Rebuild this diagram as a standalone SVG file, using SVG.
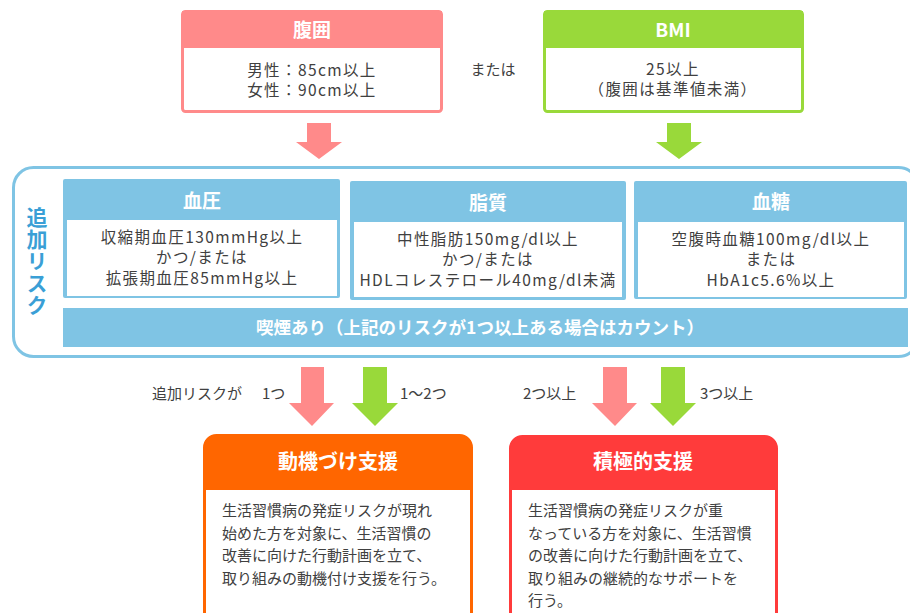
<svg xmlns="http://www.w3.org/2000/svg" width="910" height="613" viewBox="0 0 910 613">
<style>
text{font-family:"Noto Sans CJK JP","Liberation Sans",sans-serif;}
.body{font-size:15.5px;fill:#404040;text-anchor:middle;letter-spacing:1.4px;}
.head{font-size:19px;font-weight:bold;fill:#ffffff;text-anchor:middle;}
.lbl{font-size:15px;fill:#404040;}
.desc{font-size:15px;fill:#404040;}
.pink{fill:#FF8A8A;}
.green{fill:#99D93A;}
.blue{fill:#7FC4E4;}
</style>
<rect width="910" height="613" fill="#ffffff"/>

<g id="node-fukui">
  <rect x="182.5" y="11.5" width="259" height="100" rx="3" fill="#ffffff" stroke="#FF8A8A" stroke-width="3"/>
  <rect x="182" y="11" width="260" height="37" class="pink"/>
  <text x="312" y="37" class="head">腹囲</text>
  <text x="312" y="75.5" class="body">男性：85cm以上</text>
  <text x="312" y="96" class="body">女性：90cm以上</text>
</g>

<text x="493" y="75" class="lbl" text-anchor="middle" font-size="14">または</text>

<g id="node-bmi">
  <rect x="544.5" y="11.5" width="258" height="100" rx="3" fill="#ffffff" stroke="#99D93A" stroke-width="3"/>
  <rect x="544" y="11" width="259" height="37" class="green"/>
  <text x="673" y="37" class="head">BMI</text>
  <text x="673" y="74.5" class="body">25以上</text>
  <text x="673" y="95" class="body">（腹囲は基準値未満）</text>
</g>

<g id="node-risk">
  <rect x="13.5" y="167.5" width="905" height="189" rx="20" fill="#ffffff" stroke="#7FC4E4" stroke-width="3"/>
  <text x="37" y="207" writing-mode="vertical-rl" font-size="21" font-weight="bold" fill="#3A9FD6" letter-spacing="1">追加リスク</text>
</g>

<g id="node-ketsuatsu">
  <rect x="63" y="179" width="277" height="119" rx="2" class="blue"/>
  <rect x="67" y="220" width="270" height="76" fill="#ffffff"/>
  <text x="202" y="208" class="head">血圧</text>
  <text x="202" y="243" class="body">収縮期血圧130mmHg以上</text>
  <text x="202" y="263" class="body">かつ/または</text>
  <text x="202" y="284" class="body">拡張期血圧85mmHg以上</text>
</g>

<g id="node-shishitsu">
  <rect x="350" y="181" width="276" height="119" rx="2" class="blue"/>
  <rect x="354" y="222" width="268" height="75" fill="#ffffff"/>
  <text x="488" y="210" class="head">脂質</text>
  <text x="488" y="245" class="body">中性脂肪150mg/dl以上</text>
  <text x="488" y="265" class="body">かつ/または</text>
  <text x="488" y="286" class="body">HDLコレステロール40mg/dl未満</text>
</g>

<g id="node-kettou">
  <rect x="634" y="181" width="273" height="118" rx="2" class="blue"/>
  <rect x="638" y="222" width="266" height="75" fill="#ffffff"/>
  <text x="771" y="209" class="head">血糖</text>
  <text x="771" y="245" class="body">空腹時血糖100mg/dl以上</text>
  <text x="771" y="265" class="body">または</text>
  <text x="771" y="286" class="body">HbA1c5.6%以上</text>
</g>

<g id="node-kitsuen">
  <rect x="63" y="308" width="845" height="39" class="blue"/>
  <text x="480" y="334" font-size="17.5" font-weight="bold" fill="#ffffff" text-anchor="middle">喫煙あり（上記のリスクが1つ以上ある場合はカウント）</text>
</g>

<g id="connectors">
  <polygon class="pink" points="307,123 331,123 331,142 342,142 319,159 296,142 307,142"/>
  <polygon class="green" points="667,123 691,123 691,142 702,142 679,159 656,142 667,142"/>
  <polygon class="pink" points="301,367 324,367 324,403 334,403 312,426 289,403 301,403"/>
  <polygon class="green" points="363,367 387,367 387,403 398,403 375,426 352,403 363,403"/>
  <polygon class="pink" points="603,367 627,367 627,403 637,403 615,426 592,403 603,403"/>
  <polygon class="green" points="661,367 685,367 685,403 696,403 673,426 650,403 661,403"/>
</g>

<text x="152" y="399" class="lbl">追加リスクが</text>
<text x="262" y="399" class="lbl">1つ</text>
<text x="400" y="399" class="lbl">1〜2つ</text>
<text x="523" y="399" class="lbl">2つ以上</text>
<text x="700" y="399" class="lbl">3つ以上</text>

<g id="node-doukizuke">
  <rect x="204.5" y="435.5" width="267" height="200" rx="12" fill="#ffffff" stroke="#FF6600" stroke-width="3"/>
  <path d="M204,490 V447 A12,12 0 0 1 216,435 H460 A12,12 0 0 1 472,447 V490 Z" fill="#FF6600"/>
  <text x="338" y="469" font-size="20" font-weight="bold" fill="#ffffff" text-anchor="middle">動機づけ支援</text>
  <text class="desc"><tspan x="222" y="516">生活習慣病の発症リスクが現れ</tspan><tspan x="222" y="538.5">始めた方を対象に、生活習慣の</tspan><tspan x="222" y="561">改善に向けた行動計画を立て、</tspan><tspan x="222" y="583.5">取り組みの動機付け支援を行う。</tspan></text>
</g>

<g id="node-sekkyoku">
  <rect x="510.5" y="436.5" width="266" height="200" rx="12" fill="#ffffff" stroke="#FF3B3B" stroke-width="3"/>
  <path d="M510,490 V448 A12,12 0 0 1 522,436 H765 A12,12 0 0 1 777,448 V490 Z" fill="#FF3B3B"/>
  <text x="643" y="469" font-size="20" font-weight="bold" fill="#ffffff" text-anchor="middle">積極的支援</text>
  <text class="desc"><tspan x="528" y="516">生活習慣病の発症リスクが重</tspan><tspan x="528" y="538.5">なっている方を対象に、生活習慣</tspan><tspan x="528" y="561">の改善に向けた行動計画を立て、</tspan><tspan x="528" y="583.5">取り組みの継続的なサポートを</tspan><tspan x="528" y="606">行う。</tspan></text>
</g>
</svg>
